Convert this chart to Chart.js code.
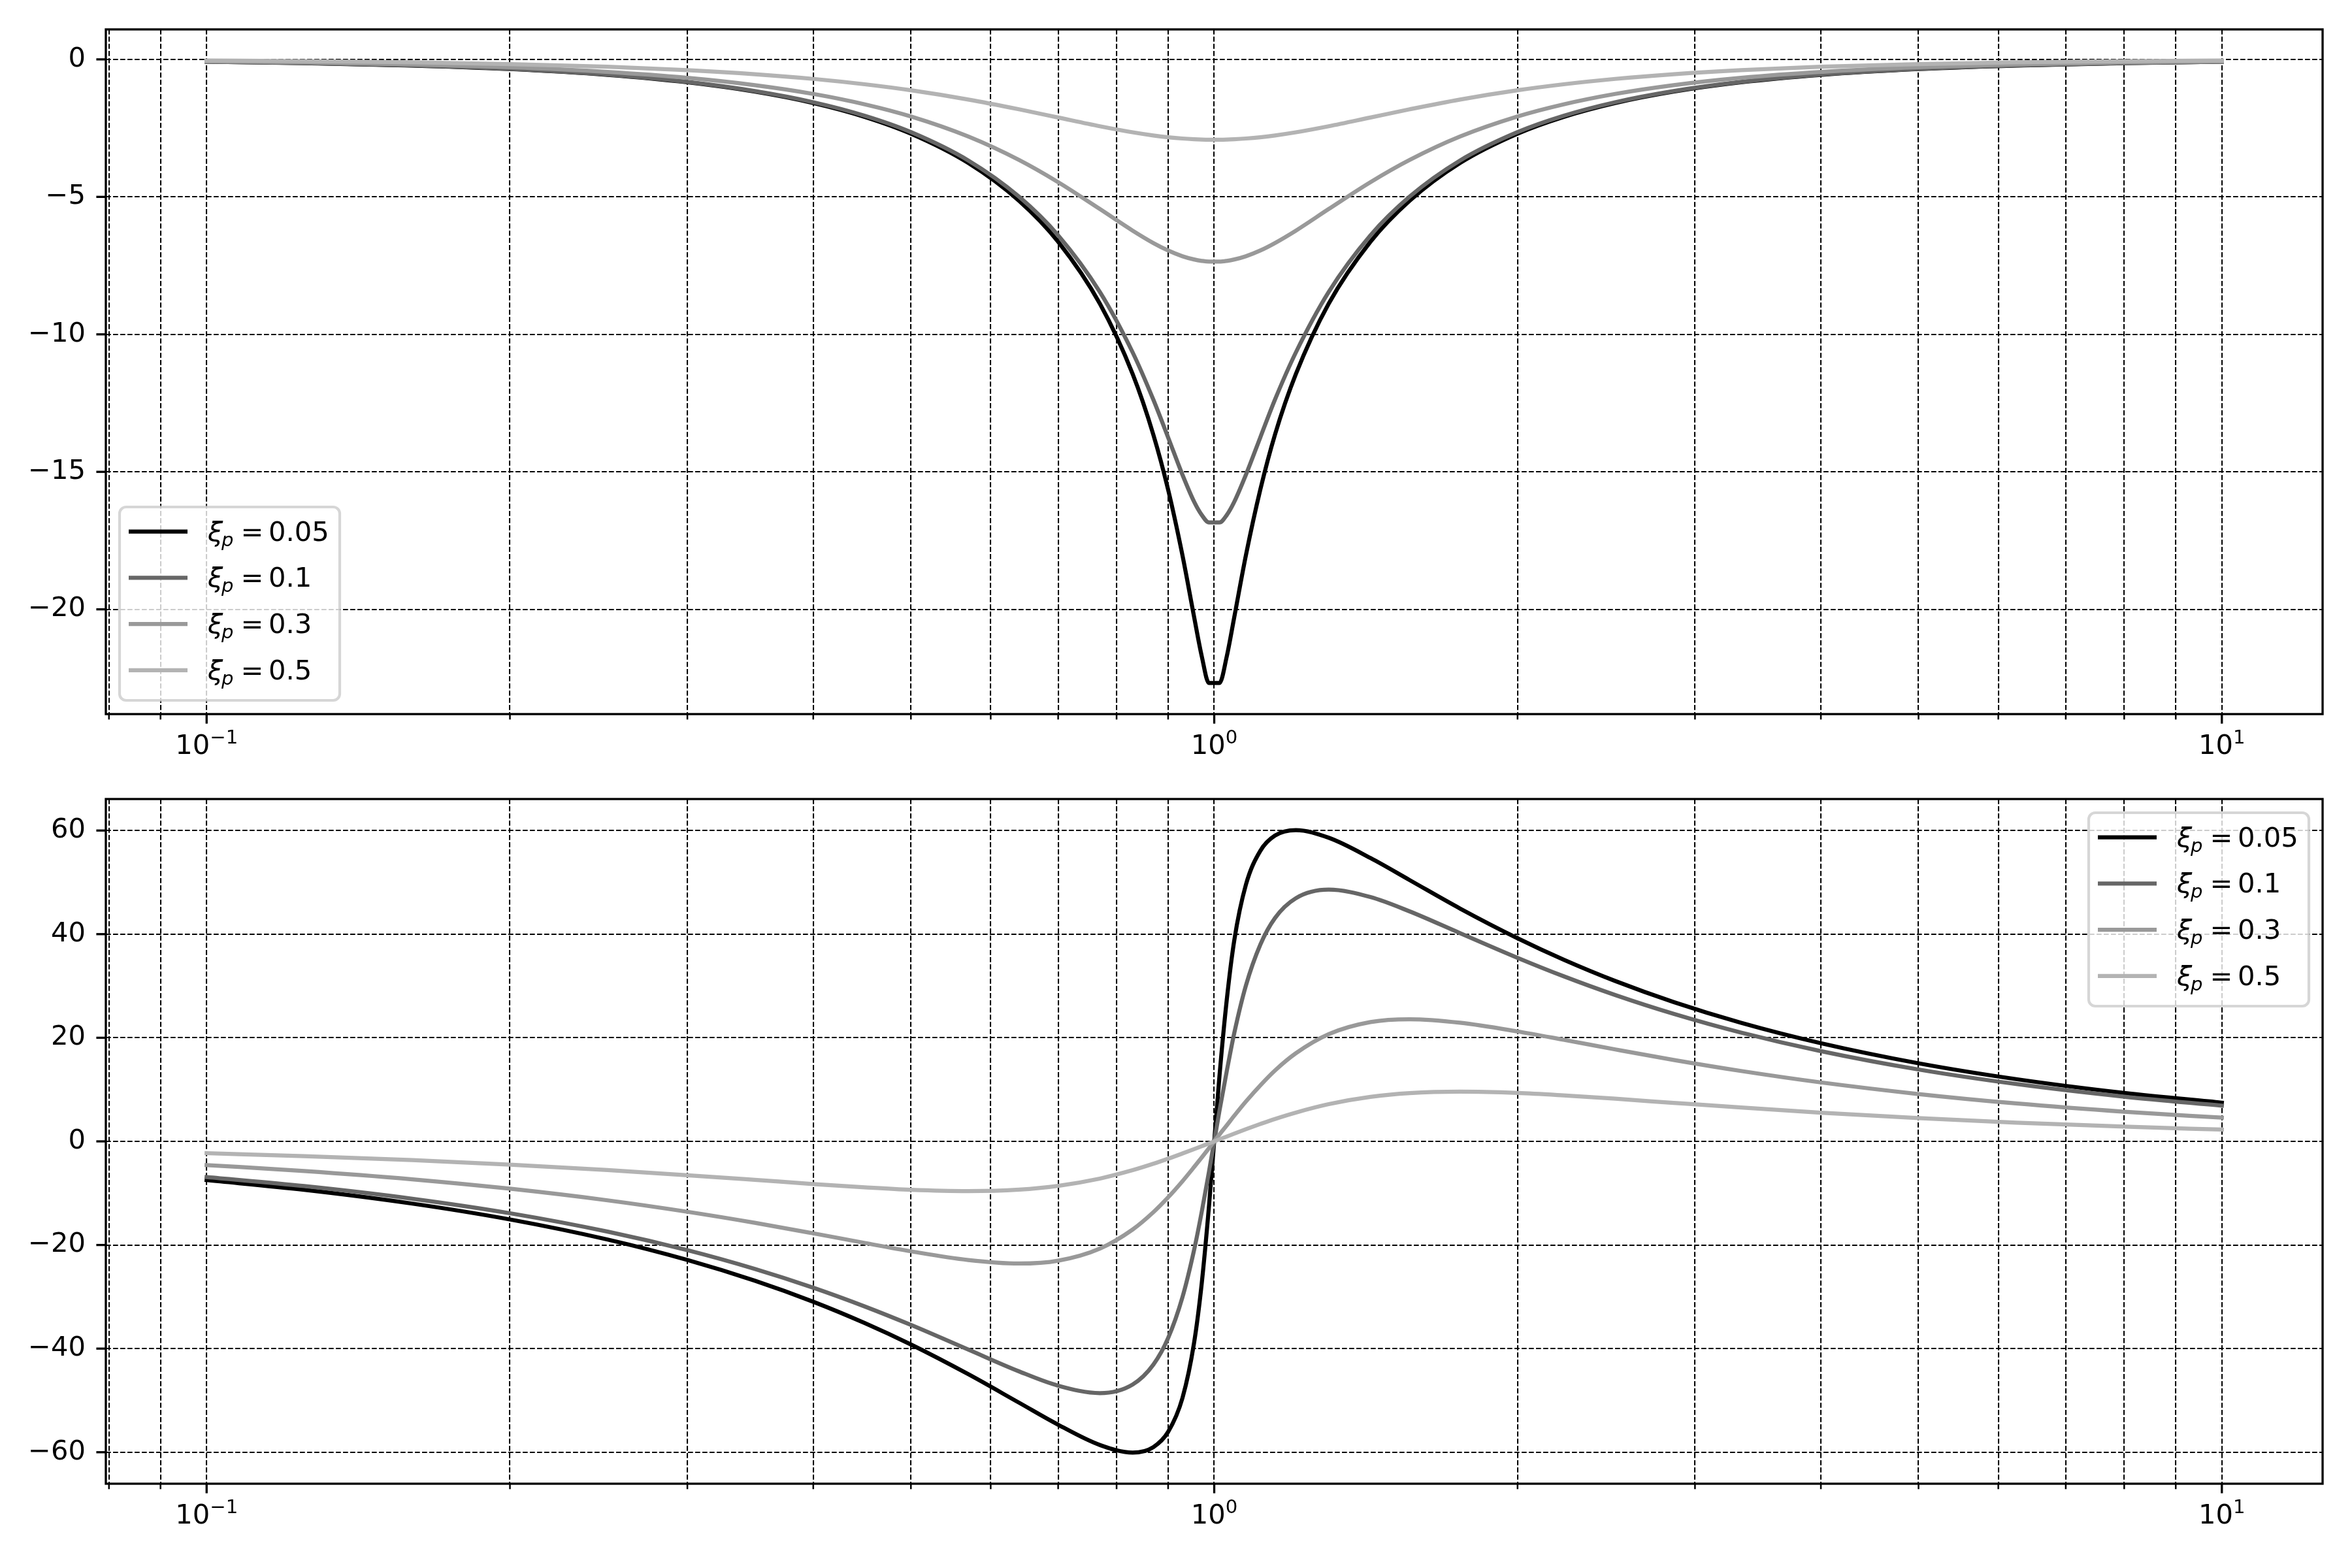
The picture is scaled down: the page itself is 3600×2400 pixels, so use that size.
<!DOCTYPE html>
<html>
<head>
<meta charset="utf-8">
<script src="https://cdn.jsdelivr.net/npm/chart.js@4.4.1/dist/chart.umd.min.js"></script>
<style>
  html, body { margin: 0; padding: 0; background: #ffffff; }
  canvas { display: block; }
</style>
</head>
<body>
<canvas id="mag" width="3600" height="1200"></canvas>
<canvas id="phase" width="3600" height="1200"></canvas>
<script>
// frequency samples (rad/s, normalised)
var freq = [0.1, 0.125, 0.16, 0.2, 0.25, 0.3, 0.35, 0.4, 0.45, 0.5, 0.57, 0.64, 0.7, 0.77, 0.83, 0.87, 0.9, 0.93, 0.955, 0.972, 0.988,
            1.012, 1.029, 1.047, 1.075, 1.111, 1.149, 1.205, 1.299, 1.429, 1.563, 1.754, 2, 2.222, 2.5, 2.857, 3.333, 4, 5, 6.25, 8, 10];

// magnitude in dB, one list per damping
var magXi005 = [-0.086, -0.134, -0.223, -0.353, -0.564, -0.834, -1.172, -1.587, -2.092, -2.702, -3.766, -5.139, -6.633, -8.885, -11.448, -13.643, -15.651, -18.041, -20.273, -21.715, -22.678,
                -22.678, -21.715, -20.273, -18.041, -15.651, -13.643, -11.448, -8.885, -6.633, -5.139, -3.766, -2.702, -2.092, -1.587, -1.172, -0.834, -0.564, -0.353, -0.223, -0.134, -0.086];
var magXi01 = [-0.084, -0.132, -0.219, -0.347, -0.554, -0.820, -1.151, -1.558, -2.051, -2.644, -3.675, -4.990, -6.398, -8.457, -10.659, -12.370, -13.748, -15.108, -16.085, -16.572, -16.841,
               -16.841, -16.572, -16.085, -15.108, -13.748, -12.370, -10.659, -8.457, -6.398, -4.990, -3.675, -2.644, -2.051, -1.558, -1.151, -0.820, -0.554, -0.347, -0.219, -0.132, -0.084];
var magXi03 = [-0.070, -0.110, -0.182, -0.287, -0.457, -0.672, -0.937, -1.256, -1.635, -2.076, -2.805, -3.657, -4.466, -5.443, -6.229, -6.677, -6.950, -7.159, -7.277, -7.328, -7.354,
               -7.354, -7.328, -7.277, -7.159, -6.950, -6.677, -6.229, -5.443, -4.466, -3.657, -2.805, -2.076, -1.635, -1.256, -0.937, -0.672, -0.457, -0.287, -0.182, -0.110, -0.070];
var magXi05 = [-0.042, -0.066, -0.108, -0.170, -0.268, -0.391, -0.538, -0.710, -0.906, -1.124, -1.460, -1.815, -2.114, -2.431, -2.652, -2.766, -2.831, -2.878, -2.904, -2.916, -2.921,
               -2.921, -2.916, -2.904, -2.878, -2.831, -2.766, -2.652, -2.431, -2.114, -1.815, -1.460, -1.124, -0.906, -0.710, -0.538, -0.391, -0.268, -0.170, -0.108, -0.066, -0.042];

// phase in degrees
var phaseXi005 = [-7.47, -9.35, -12.01, -15.07, -18.95, -22.89, -26.90, -30.96, -35.08, -39.21, -44.94, -50.43, -54.69, -58.60, -60.07, -59.02, -56.08, -49.53, -38.88, -27.28, -12.59,
                  12.59, 27.28, 38.88, 49.53, 56.08, 59.02, 60.07, 58.60, 54.69, 50.43, 44.94, 39.21, 35.08, 30.96, 26.90, 22.89, 18.95, 15.07, 12.01, 9.35, 7.47];
var phaseXi01 = [-6.89, -8.63, -11.07, -13.87, -17.42, -21.00, -24.62, -28.25, -31.87, -35.43, -40.19, -44.39, -47.16, -48.59, -46.93, -43.12, -37.97, -30.07, -20.97, -13.53, -5.90,
                 5.90, 13.53, 20.97, 30.07, 37.97, 43.12, 46.93, 48.59, 47.16, 44.39, 40.19, 35.43, 31.87, 28.25, 24.62, 21.00, 17.42, 13.87, 11.07, 8.63, 6.89];
var phaseXi03 = [-4.58, -5.72, -7.32, -9.14, -11.38, -13.59, -15.72, -17.75, -19.61, -21.22, -22.90, -23.58, -23.03, -20.70, -17.01, -13.69, -10.81, -7.69, -4.96, -3.09, -1.32,
                 1.32, 3.09, 4.96, 7.69, 10.81, 13.69, 17.01, 20.70, 23.03, 23.58, 22.90, 21.22, 19.61, 17.75, 15.72, 13.59, 11.38, 9.14, 7.32, 5.72, 4.58];
var phaseXi05 = [-2.28, -2.84, -3.62, -4.49, -5.54, -6.53, -7.43, -8.23, -8.87, -9.34, -9.59, -9.31, -8.58, -7.18, -5.56, -4.33, -3.35, -2.34, -1.50, -0.93, -0.40,
                 0.40, 0.93, 1.50, 2.34, 3.35, 4.33, 5.56, 7.18, 8.58, 9.31, 9.59, 9.34, 8.87, 8.23, 7.43, 6.53, 5.54, 4.49, 3.62, 2.84, 2.28];

var dampingLabels = ["0.05", "0.1", "0.3", "0.5"];
var lineColors = ["#000000", "#666666", "#999999", "#b3b3b3"];

var xTicks = [0.08, 0.09, 0.1, 0.2, 0.3, 0.4, 0.5, 0.6, 0.7, 0.8, 0.9, 1, 2, 3, 4, 5, 6, 7, 8, 9, 10];
// major tick labels are 10 raised to these exponents
var xTickExponents = { 0.1: "\u22121", 1: "0", 10: "1" };
var magTicks = [-20, -15, -10, -5, 0];
var phaseTicks = [-60, -40, -20, 0, 20, 40, 60];

Chart.defaults.font.family = "'DejaVu Sans'";
Chart.defaults.color = "#000";

var FONT = 41.67;

function makeSeries(values, i) {
    return {
        label: "\u03BEp = " + dampingLabels[i],
        data: freq.map(function (f, j) { return { x: f, y: values[j] }; }),
        borderColor: lineColors[i],
        borderWidth: 6.25,
        borderCapStyle: "square",
        borderJoinStyle: "round",
        pointRadius: 0,
        cubicInterpolationMode: "monotone",
        fill: false,
        order: 3 - i
    };
}

// spines, tick marks, power-of-ten labels and a matplotlib-like legend
var framePlugin = {
    id: "frame",
    afterDraw: function (chart, args, opts) {
        var ctx = chart.ctx, a = chart.chartArea;
        var xs = chart.scales.x, ys = chart.scales.y;
        ctx.save();
        ctx.strokeStyle = "#000";
        ctx.fillStyle = "#000";
        ctx.lineCap = "butt";
        xs.ticks.forEach(function (t) {
            var px = xs.getPixelForValue(t.value);
            var exp = xTickExponents[t.value];
            var major = exp !== undefined;
            ctx.lineWidth = major ? 3.33 : 2.5;
            ctx.beginPath();
            ctx.moveTo(px, a.bottom);
            ctx.lineTo(px, a.bottom + (major ? 14.6 : 8.3));
            ctx.stroke();
            if (major) {
                ctx.textBaseline = "alphabetic";
                ctx.textAlign = "left";
                ctx.font = FONT + "px 'DejaVu Sans'";
                var w1 = ctx.measureText("10").width;
                ctx.font = "29.17px 'DejaVu Sans'";
                var w2 = ctx.measureText(exp).width;
                var sx = px - (w1 + w2) / 2, by = a.bottom + 61;
                ctx.font = FONT + "px 'DejaVu Sans'";
                ctx.fillText("10", sx, by);
                ctx.font = "29.17px 'DejaVu Sans'";
                ctx.fillText(exp, sx + w1, by - 16);
            }
        });
        ys.ticks.forEach(function (t) {
            var py = ys.getPixelForValue(t.value);
            ctx.lineWidth = 3.33;
            ctx.beginPath();
            ctx.moveTo(a.left, py);
            ctx.lineTo(a.left - 14.6, py);
            ctx.stroke();
        });
        ctx.lineWidth = 3.33;
        ctx.lineJoin = "miter";
        ctx.strokeRect(a.left, a.top, a.right - a.left, a.bottom - a.top);

        // legend
        var w = 337, h = 296;
        var bx = opts.corner === "ll" ? a.left + 21 : a.right - 21 - w;
        var by = opts.corner === "ll" ? a.bottom - 21 - h : a.top + 21;
        ctx.beginPath();
        ctx.roundRect(bx, by, w, h, 10);
        ctx.fillStyle = "rgba(255,255,255,0.8)";
        ctx.fill();
        ctx.lineWidth = 4.17;
        ctx.strokeStyle = "rgba(204,204,204,0.8)";
        ctx.stroke();
        dampingLabels.forEach(function (lab, i) {
            var ly = by + 37.5 + i * 70.8;
            ctx.strokeStyle = lineColors[i];
            ctx.lineWidth = 6.25;
            ctx.beginPath();
            ctx.moveTo(bx + 14, ly);
            ctx.lineTo(bx + 104, ly);
            ctx.stroke();
            var tx = bx + 136, base = ly + 14;
            ctx.fillStyle = "#000";
            ctx.textBaseline = "alphabetic";
            ctx.textAlign = "left";
            ctx.font = "italic " + FONT + "px 'DejaVu Sans'";
            ctx.fillText("\u03BE", tx - 1, base);
            ctx.font = "italic 29px 'DejaVu Sans'";
            ctx.fillText("p", tx + 20, base + 8);
            ctx.font = FONT + "px 'DejaVu Sans'";
            ctx.fillText("=", tx + 49.5, base);
            ctx.fillText(lab, tx + 92, base);
        });
        ctx.restore();
    }
};

function makeConfig(series, yMin, yMax, yTicks, padTop, axisH, corner) {
    return {
        type: "line",
        data: { datasets: series },
        options: {
            responsive: false,
            animation: false,
            layout: { padding: { left: 0, top: padTop, right: 45, bottom: 0 } },
            plugins: {
                legend: { display: false },
                tooltip: { enabled: false },
                frame: { corner: corner }
            },
            scales: {
                x: {
                    type: "logarithmic",
                    min: 0.07943,
                    max: 12.589,
                    afterBuildTicks: function (s) {
                        s.ticks = xTicks.map(function (v) { return { value: v }; });
                    },
                    afterFit: function (s) {
                        s.height = axisH;
                        s.paddingLeft = 0;
                        s.paddingRight = 0;
                    },
                    ticks: {
                        autoSkip: false,
                        maxRotation: 0,
                        padding: 21,
                        font: { size: FONT },
                        callback: function () { return ""; }
                    },
                    grid: { color: "#000", lineWidth: 2.08, drawTicks: false },
                    border: { display: false, dash: [7.7, 3.3] }
                },
                y: {
                    type: "linear",
                    min: yMin,
                    max: yMax,
                    afterBuildTicks: function (s) {
                        s.ticks = yTicks.map(function (v) { return { value: v }; });
                    },
                    afterFit: function (s) {
                        s.width = 162;
                        s.paddingTop = 0;
                        s.paddingBottom = 0;
                    },
                    ticks: {
                        padding: 31,
                        font: { size: FONT },
                        callback: function (v) { return String(v).replace("-", "\u2212"); }
                    },
                    grid: { color: "#000", lineWidth: 2.08, drawTicks: false },
                    border: { display: false, dash: [7.7, 3.3] }
                }
            }
        },
        plugins: [framePlugin]
    };
}

window.onload = function () {
    var magSeries = [magXi005, magXi01, magXi03, magXi05].map(makeSeries);
    var phaseSeries = [phaseXi005, phaseXi01, phaseXi03, phaseXi05].map(makeSeries);

    var magCtx = document.getElementById("mag").getContext("2d");
    window.magChart = new Chart(magCtx, makeConfig(magSeries, -23.81, 1.09, magTicks, 45, 107, "ll"));

    var phaseCtx = document.getElementById("phase").getContext("2d");
    window.phaseChart = new Chart(phaseCtx, makeConfig(phaseSeries, -66.08, 66.08, phaseTicks, 23, 129, "ur"));
};
</script>
</body>
</html>
